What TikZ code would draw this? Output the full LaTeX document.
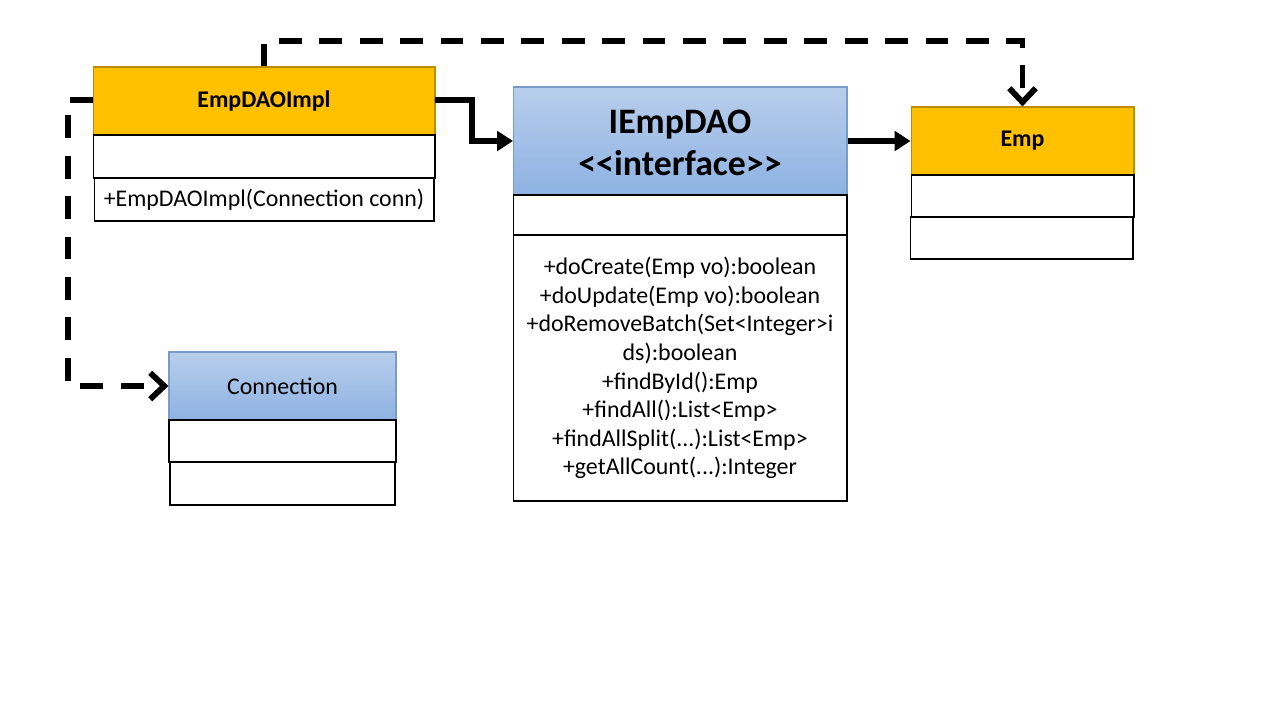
\documentclass[tikz,border=0pt]{standalone}
\usepackage{fontspec}
\setmainfont{Carlito}
\usetikzlibrary{arrows.meta}
\definecolor{hdrorange}{RGB}{255,192,0}
\definecolor{hdrorangeline}{RGB}{190,140,0}
\definecolor{bluetop}{RGB}{184,206,236}
\definecolor{bluebot}{RGB}{141,178,226}
\definecolor{blueline}{RGB}{120,155,200}
\tikzset{
  orangehdr/.style={draw=hdrorangeline, line width=0.6pt, fill=hdrorange, inner sep=0pt, font=\fontsize{13.6}{16.3}\selectfont\bfseries},
  bluehdr/.style={draw=blueline, line width=0.6pt, top color=bluetop, bottom color=bluebot, inner sep=0pt},
  compbox/.style={draw=black, line width=0.6pt, fill=white, inner sep=0pt, align=center, font=\fontsize{13.6}{16.3}\selectfont},
  solidconn/.style={line width=2.9pt, -{Triangle[length=9pt,width=11pt]}},
  dashconn/.style={line width=3.3pt, dash pattern=on 13pt off 10pt, -{Straight Barb[length=8pt,width=15pt]}},
}
\begin{document}
\begin{tikzpicture}[x=0.02cm,y=-0.02cm]
\useasboundingbox (0,0) rectangle (1280,720);
\fill[white] (0,0) rectangle (1280,720);

% EmpDAOImpl
\node[orangehdr, minimum width=6.84cm, minimum height=1.36cm] (implh) at (264,101) {EmpDAOImpl};
\node[compbox, minimum width=6.84cm, minimum height=0.86cm] (impla) at (264,156.5) {};
\node[compbox, minimum width=6.8cm, minimum height=0.86cm] (implm) at (264,199.5) {\raisebox{-1pt}{+EmpDAOImpl(Connection conn)}};

% IEmpDAO
\node[bluehdr, minimum width=6.68cm, minimum height=2.16cm] (daoh) at (680,141) {};
\node[align=center, inner sep=0pt, font=\fontsize{20.4}{23.8}\selectfont\bfseries] (daot) at (680,143) {IEmpDAO\\<{}<interface>{}>};
\node[compbox, minimum width=6.68cm, minimum height=0.8cm] (daoa) at (680,215) {};
\node[compbox, minimum width=6.68cm, minimum height=5.32cm] (daom) at (680,368) {+doCreate(Emp vo):boolean\\+doUpdate(Emp vo):boolean\\+doRemoveBatch(Set<Integer>i\\ds):boolean\\+findById():Emp\\+findAll():List<Emp>\\+findAllSplit(...):List<Emp>\\+getAllCount(...):Integer};

% Emp
\node[orangehdr, minimum width=4.46cm, minimum height=1.36cm] (emph) at (1022.5,141) {Emp};
\node[compbox, minimum width=4.46cm, minimum height=0.84cm] (empa) at (1022.5,196) {};
\node[compbox, minimum width=4.46cm, minimum height=0.84cm] (empm) at (1021.5,238) {};

% Connection
\node[bluehdr, minimum width=4.54cm, minimum height=1.36cm, font=\fontsize{13.6}{16.3}\selectfont] (connh) at (282.5,386) {\raisebox{-1pt}{Connection}};
\node[compbox, minimum width=4.54cm, minimum height=0.84cm] (conna) at (282.5,441) {};
\node[compbox, minimum width=4.5cm, minimum height=0.86cm] (connm) at (282.5,483.5) {};

% connectors
\coordinate (bendA) at (472,100);
\coordinate (topY) at (264,41);
\coordinate (leftX) at (68,100);
\coordinate (implE) at (435,100);
\coordinate (implW) at (93,100);
\coordinate (daoW) at (513,141);
\draw[solidconn] (implE) -- (bendA) |- (daoW);
\draw[solidconn] (daoh.east) -- (emph.west);
\draw[dashconn] (implh.north) -- (topY) -| (emph.north);
\draw[dashconn] (implW) -- (leftX) |- (connh.west);
\end{tikzpicture}
\end{document}
